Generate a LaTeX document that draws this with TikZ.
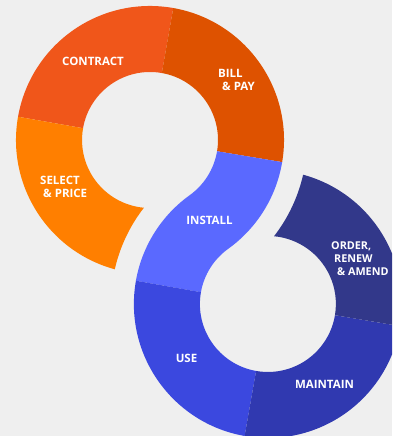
\documentclass[tikz,border=0pt]{standalone}
\usepackage{fontspec}
\setmainfont{Open Sans}
\definecolor{bgc}{HTML}{EFEFEF}
\definecolor{selectc}{HTML}{FF7F00}
\definecolor{contractc}{HTML}{F0561A}
\definecolor{billc}{HTML}{DE5200}
\definecolor{installc}{HTML}{5A69FF}
\definecolor{usec}{HTML}{3B48DF}
\definecolor{maintainc}{HTML}{3039B0}
\definecolor{orderc}{HTML}{32388A}
\begin{document}
\begin{tikzpicture}[x=1pt,y=1pt,lbl/.style={text=white,font=\bfseries\fontsize{11.5}{13}\selectfont,align=left,inner sep=0pt}]
	\def\rin{68}\def\rout{134}\def\rgap{157}
	\def\ringpart#1#2#3{(#1) ++(#2:\rout) arc (#2:#3:\rout) -- ++(#3:-66) arc (#3:#2:\rin) -- cycle}
	\useasboundingbox (0,0) rectangle (392,436);
	\clip (0,0) rectangle (392,436);
	\fill[bgc] (0,0) rectangle (392,436);
	\coordinate (T) at (150,296); \coordinate (B) at (267.9,132);
	\fill[contractc] \ringpart{T}{80}{170};
	\fill[billc] \ringpart{T}{-9.5}{80};
	\fill[selectc] (T) ++(170:\rout) arc (170:254.76:\rout) arc (167.2:142.16:\rgap) arc (264.83:170:\rin) -- cycle;
	\fill[installc] (T) ++(-9.5:\rout) arc (-9.5:-54.3:\rout) arc (125.7:170:\rin) -- ++(170:66) arc (170:125.7:\rout) arc (-54.3:-9.5:\rin) -- cycle;
	\fill[usec] \ringpart{B}{170}{260};
	\fill[maintainc] \ringpart{B}{260}{350.5};
	\fill[orderc] (B) ++(-9.5:\rout) arc (-9.5:74.76:\rout) arc (-12.8:-37.84:\rgap) arc (84.83:-9.5:\rin) -- cycle;
	\node[lbl] (contract) at (93,374.5) {CONTRACT};
	\node[lbl,anchor=west] (bill) at (218,356) {BILL\\\hspace{4pt}\& PAY};
	\node[lbl,anchor=west] (select) at (40,249.5) {SELECT\\\hspace{3pt}\& PRICE};
	\node[lbl] (install) at (209.5,215.5) {INSTALL};
	\node[lbl,anchor=west,font=\bfseries\fontsize{10.8}{13}\selectfont] (order) at (331,177) {ORDER,\\\hspace{3pt}RENEW\\\hspace{6pt}\& AMEND};
	\node[lbl] (use) at (186.5,78) {USE};
	\node[lbl] (maintain) at (324.5,51.5) {MAINTAIN};
\end{tikzpicture}
\end{document}
